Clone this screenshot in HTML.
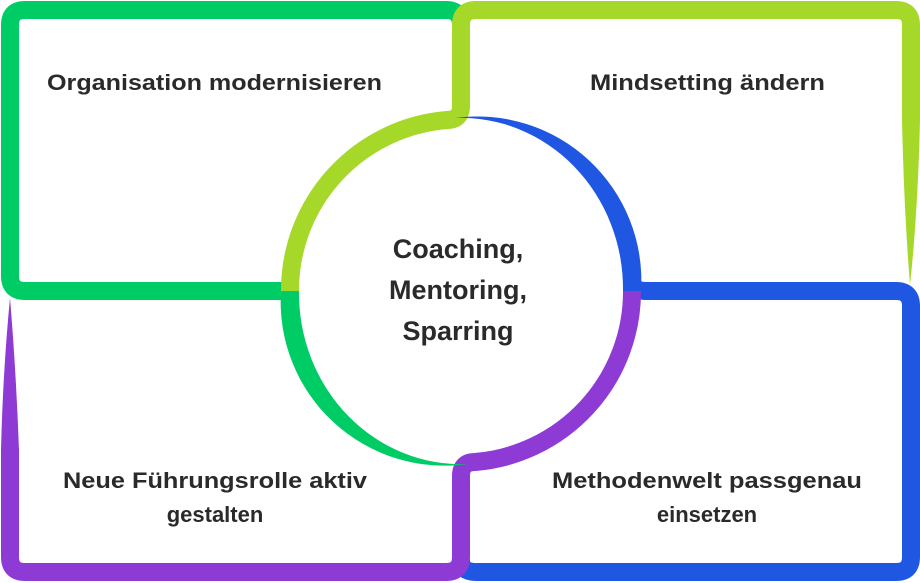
<!DOCTYPE html>
<html><head><meta charset="utf-8"><style>
html,body{margin:0;padding:0;background:#fff;}
svg{display:block}
text{font-family:"Liberation Sans",sans-serif;font-weight:bold;fill:#2a2a2a;}
</style></head><body>
<svg width="920" height="583" viewBox="0 0 920 583" xmlns="http://www.w3.org/2000/svg">
<g fill="none" stroke-width="18" stroke-linejoin="round">
<!-- green box -->
<path d="M290,291 L25,291 Q10,291 10,276 L10,25 Q10,10 25,10 L446,10 Q461,10 461,25" stroke="#00cc66"/>
<!-- blue box -->
<path d="M632,280 Q632,291 646,291 L896,291 Q911,291 911,306 L911,557 Q911,572 896,572 L476,572 Q461,572 461,560" stroke="#1f57e3"/>
<!-- lime -->
<path d="M290,291 A171,171 0 0 1 447,120 Q461,120 461,106 L461,25 Q461,10 476,10 L896,10 Q911,10 911,25 L911,120" stroke="#a6d82a"/>
<!-- purple -->
<path d="M632,291 A171,171 0 0 1 475,462 Q461,462 461,476 L461,557 Q461,572 446,572 L25,572 Q10,572 10,557 L10,450" stroke="#8e3bd6"/>
</g>
<!-- tapers -->
<path d="M902,120 L920,120 Q918,210 910,285 Q904,210 902,120 Z" fill="#a6d82a"/>
<path d="M1,450 L19,450 Q16,370 10,298 Q3,370 1,450 Z" fill="#8e3bd6"/>
<path d="M455,118 A164,164 0 0 1 641,291 L623,291 A162,171 0 0 0 455,118 Z" fill="#1f57e3"/>
<path d="M468,464 A164,164 0 0 1 281,291 L299,291 A162,171 0 0 0 468,464 Z" fill="#00cc66"/>
<g font-size="22">
<text x="47" y="90" textLength="335" lengthAdjust="spacingAndGlyphs">Organisation modernisieren</text>
<text x="590" y="90" textLength="235" lengthAdjust="spacingAndGlyphs">Mindsetting ändern</text>
<text x="63" y="488" textLength="304" lengthAdjust="spacingAndGlyphs">Neue Führungsrolle aktiv</text>
<text x="215" y="522" text-anchor="middle">gestalten</text>
<text x="552" y="488" textLength="310" lengthAdjust="spacingAndGlyphs">Methodenwelt passgenau</text>
<text x="707" y="522" text-anchor="middle">einsetzen</text>
</g>
<g font-size="27" text-anchor="middle">
<text x="458" y="258">Coaching,</text>
<text x="458" y="299">Mentoring,</text>
<text x="458" y="340">Sparring</text>
</g>
</svg>
</body></html>
